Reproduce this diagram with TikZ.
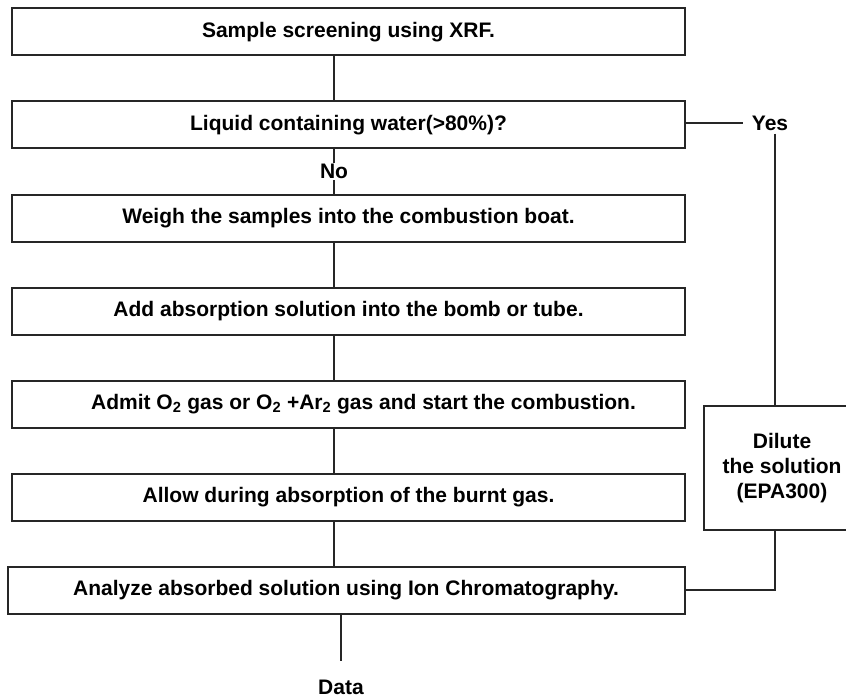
\documentclass[tikz,border=0pt]{standalone}
\usepackage{fontspec}
\setmainfont{Liberation Sans}
\usetikzlibrary{positioning}

\begin{document}
\begin{tikzpicture}[
    x=1pt, y=1pt,
    node distance=46pt and 20pt,
    font=\fontsize{21}{25}\selectfont\bfseries,
    stepbox/.style={rectangle, draw=black!85, line width=2pt, minimum width=673pt, minimum height=47pt, outer sep=0pt, align=center},
    sidebox/.style={rectangle, draw=black!85, line width=2pt, minimum width=156pt, minimum height=124pt, outer sep=0pt, align=center},
    tag/.style={inner sep=3pt},
    link/.style={draw=black!85, line width=1.5pt}
]
\useasboundingbox (0,0) rectangle (846,-698);

% Main column
\node (screen) [stepbox] at (348.5,-32) {Sample screening using XRF.};
\node (liquid) [stepbox, below=of screen] {Liquid containing water(>80\%)?};
\node (weigh) [stepbox, below=of liquid] {Weigh the samples into the combustion boat.};
\node (absorb) [stepbox, below=of weigh] {Add absorption solution into the bomb or tube.};
\node (admit) [stepbox, below=of absorb] {\hspace*{30pt}Admit O\textsubscript{2} gas or O\textsubscript{2} +Ar\textsubscript{2} gas and start the combustion.};
\node (allow) [stepbox, below=of admit] {Allow during absorption of the burnt gas.};
\node (analyze) [stepbox, minimum width=677pt, below=of allow, xshift=-2.5pt] {Analyze absorbed solution using Ion Chromatography.};

% Side branch
\node (yes) [tag] at (770,-123) {Yes};
\node (dilute) [sidebox] at (782,-468) {Dilute\\the solution\\(EPA300)};
\node (data) [tag] at (341,-687) {Data};

% Routing columns
\coordinate (spine) at (334,0);
\coordinate (loop) at (775,0);

% Connect main column
\draw [link] (screen.south -| spine) -- (liquid.north -| spine);
\draw [link] (liquid.south -| spine) -- (weigh.north -| spine)
    node [midway, fill=white, inner sep=1pt] {No};
\draw [link] (weigh.south -| spine) -- (absorb.north -| spine);
\draw [link] (absorb.south -| spine) -- (admit.north -| spine);
\draw [link] (admit.south -| spine) -- (allow.north -| spine);
\draw [link] (allow.south -| spine) -- (analyze.north -| spine);
\draw [link] (analyze.south -| data) -- ++(0,-47);

% Connect side branch
\draw [link, shorten >=6pt] (liquid.east) ++(0,2) -- (yes.west |- 0,-123);
\draw [link] (yes.south -| loop) -- (dilute.north -| loop);
\draw [link] (dilute.south -| loop) |- (analyze.east);

\end{tikzpicture}
\end{document}
